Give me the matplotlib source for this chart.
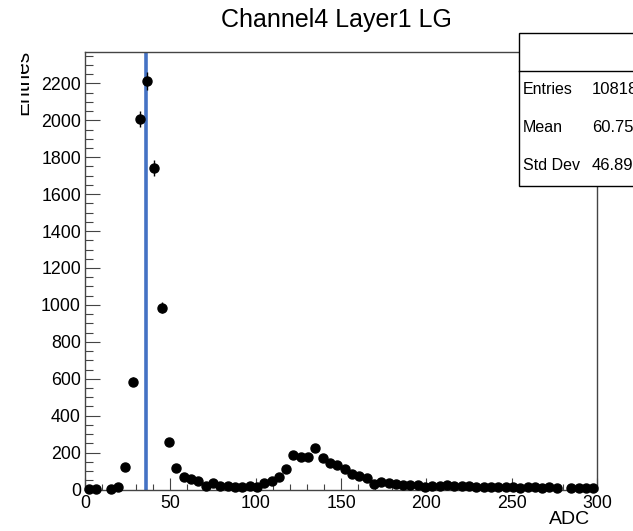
import numpy as np
import matplotlib.pyplot as plt
from matplotlib.patches import Rectangle
from matplotlib.lines import Line2D
from matplotlib.transforms import Bbox, TransformedBbox
from matplotlib.ticker import MultipleLocator

plt.rcParams['font.family'] = ['Liberation Sans', 'DejaVu Sans']

# histogram: 70 bins on [0, 300)
n_bins = 70
adc_min, adc_max = 0, 300
counts = [2, 2, 0, 2, 16, 120, 584, 2006, 2212, 1741,
          985, 257, 115, 68, 57, 46, 19, 37, 21, 21,
          15, 15, 19, 14, 37, 46, 69, 111, 187, 174,
          174, 223, 169, 145, 133, 109, 84, 73, 61, 30,
          42, 34, 28, 24, 24, 24, 14, 19, 20, 22,
          18, 17, 18, 16, 16, 15, 14, 14, 12, 10,
          12, 11, 10, 12, 8, 0, 6, 8, 7, 6]
threshold = 36

title = 'Channel4 Layer1 LG'
stat_names = ['Entries', 'Mean', 'Std Dev']
stat_values = ['10818', '60.75', '46.89']

W, H = 633, 531
fig = plt.figure(figsize=(W / 100, H / 100), dpi=100)
fig.patch.set_facecolor('white')


def fx(x):
    return x / W


def fy(y):
    return 1 - y / H


ax = fig.add_axes([fx(85), fy(489.5), fx(597) - fx(85), fy(52) - fy(489.5)])

edges = np.linspace(adc_min, adc_max, n_bins + 1)
centres = 0.5 * (edges[:-1] + edges[1:])
counts = np.array(counts, dtype=float)
filled = counts > 0

ax.errorbar(centres[filled], counts[filled], yerr=np.sqrt(counts[filled]),
            fmt='o', color='black', ms=6.5, elinewidth=1.0, capsize=0,
            clip_on=False, zorder=3)
ax.axvline(threshold, color='#4472C4', lw=2.6, zorder=2)

ax.set_xlim(adc_min, adc_max)
ax.set_ylim(0, 2370)

# ROOT-like frame and ticks
for side in ['left', 'bottom', 'right', 'top']:
    ax.spines[side].set_color('#444444')
    ax.spines[side].set_linewidth(1.0)
ax.xaxis.set_major_locator(MultipleLocator(50))
ax.xaxis.set_minor_locator(MultipleLocator(10))
ax.yaxis.set_major_locator(MultipleLocator(200))
ax.yaxis.set_minor_locator(MultipleLocator(50))
ax.tick_params(axis='both', which='both', direction='in', color='#444444',
               width=0.8, top=False, right=False, labelsize=12.8)
ax.tick_params(axis='x', which='major', length=8.6, pad=3.6)
ax.tick_params(axis='x', which='minor', length=4.3)
ax.tick_params(axis='y', which='major', length=10.8, pad=2.9)
ax.tick_params(axis='y', which='minor', length=5.4)

fig.text(fx(336), fy(20), title, fontsize=18, ha='center', va='center')
fig.text(fx(590), fy(520), 'ADC', fontsize=14, ha='right', va='center')

ylab = fig.text(fx(28.5), fy(50), 'Entries', fontsize=15, rotation=90,
                rotation_mode='anchor', ha='right', va='baseline')
ylab.set_clip_box(TransformedBbox(Bbox.from_extents(fx(20.7), 0, fx(40), 1),
                                  fig.transFigure))
ylab.set_clip_on(True)

# statistics box
fig.add_artist(Rectangle((fx(519), fy(186)), fx(700) - fx(519), fy(33) - fy(186),
                         transform=fig.transFigure, facecolor='white',
                         edgecolor='black', lw=1.0, zorder=5))
fig.add_artist(Line2D([fx(519), fx(700)], [fy(71), fy(71)],
                      transform=fig.transFigure, color='black', lw=1.0, zorder=6))
for i, (name, val) in enumerate(zip(stat_names, stat_values)):
    ypos = fy(89 + i * 38.5)
    fig.text(fx(523), ypos, name, fontsize=11.5, ha='left', va='center', zorder=7)
    fig.text(fx(592), ypos, val, fontsize=12, ha='left', va='center', zorder=7)

fig.savefig('out.png', dpi=100)
